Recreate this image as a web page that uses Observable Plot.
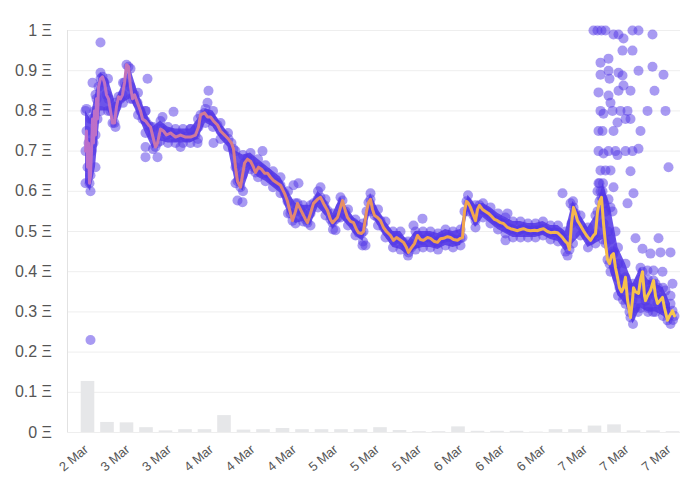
<!DOCTYPE html>
<html>
<head>
<meta charset="utf-8">
<script src="https://cdn.jsdelivr.net/npm/d3@7"></script>
<script src="https://cdn.jsdelivr.net/npm/@observablehq/plot@0.6"></script>
<style>
  html, body { margin: 0; background: #fff; }
  #plot svg { display: block; }
</style>
</head>
<body>
<div id="plot"></div>
<script>
// all times are hours since 2 Mar 00:00 (UTC)
const march2 = Date.UTC(2022, 2, 2);
const toDate = h => new Date(march2 + h * 3600e3);

const xDomainHours = [18.9, 141.5];
const tickHours = [23.5, 31.8, 40.1, 48.5, 56.8, 65.1, 73.4, 81.7, 90.1, 98.4, 106.7, 115.0, 123.3, 131.6, 140.0];
const tickLabels = ["2 Mar", "3 Mar", "3 Mar", "4 Mar", "4 Mar", "4 Mar", "5 Mar", "5 Mar", "5 Mar",
  "6 Mar", "6 Mar", "6 Mar", "7 Mar", "7 Mar", "7 Mar"];
const yTicks = [0, 0.1, 0.2, 0.3, 0.4, 0.5, 0.6, 0.7, 0.8, 0.9, 1];

// moving average of sale prices (Ξ)
const trendHours = [22.5, 22.7, 22.9, 23.1, 23.3, 23.5, 23.7, 23.9, 24.1, 24.3,
  24.5, 24.7, 24.9, 25.1, 25.5, 25.9, 26.3, 26.7, 27.1, 27.5,
  27.9, 28.3, 28.7, 29.1, 29.5, 29.9, 30.3, 30.7, 31.1, 31.5,
  31.9, 32.3, 32.9, 33.5, 33.9, 34.5, 35.1, 35.5, 35.9, 36.5,
  36.9, 37.5, 38.1, 38.7, 39.5, 40.5, 41.5, 42.5, 43.5, 44.5,
  45.1, 45.5, 46.3, 46.9, 47.5, 48.1, 48.9, 49.5, 50.3, 51.1,
  51.7, 52.1, 52.5, 52.9, 53.5, 53.9, 54.3, 54.9, 55.5, 56.1,
  56.5, 57.1, 57.7, 58.3, 58.9, 59.5, 60.1, 60.9, 61.5, 62.3,
  62.9, 63.5, 63.9, 64.5, 64.9, 65.5, 65.9, 66.5, 66.9, 67.5,
  68.1, 68.9, 69.5, 70.3, 70.9, 71.5, 71.9, 72.5, 72.9, 73.5,
  73.9, 74.5, 74.9, 75.5, 76.1, 76.7, 77.1, 77.7, 78.1, 78.7,
  79.1, 79.5, 79.9, 80.3, 80.9, 81.5, 82.1, 82.7, 83.5, 84.1,
  84.7, 85.3, 86.1, 86.7, 87.1, 87.7, 88.3, 88.9, 89.5, 90.1,
  90.9, 91.5, 92.3, 92.9, 93.5, 94.1, 94.9, 95.5, 96.1, 96.9,
  97.5, 97.9, 98.3, 98.7, 99.1, 99.5, 100.1, 100.5, 100.9, 101.3,
  101.9, 102.5, 103.1, 103.7, 104.3, 104.9, 105.5, 106.1, 106.9, 107.5,
  108.1, 108.9, 109.5, 110.1, 110.9, 111.5, 112.3, 112.9, 113.5, 114.1,
  114.9, 115.5, 116.3, 116.9, 117.5, 117.9, 118.5, 118.9, 119.3, 119.7,
  120.1, 120.5, 120.9, 121.5, 122.1, 122.7, 123.5, 124.1, 124.5, 124.9,
  125.3, 125.7, 126.1, 126.5, 126.9, 127.3, 127.7, 128.1, 128.5, 128.9,
  129.3, 129.7, 130.1, 130.5, 130.9, 131.3, 131.5, 131.9, 132.1, 132.5,
  133.1, 133.5, 133.9, 134.3, 134.5, 134.9, 135.5, 135.9, 136.1, 136.5,
  136.9, 137.5, 137.9, 138.3, 138.9, 139.3, 139.9, 140.3];
const trendPrices = [0.70, 0.75, 0.66, 0.72, 0.62, 0.64, 0.70, 0.78, 0.72, 0.80,
  0.74, 0.83, 0.78, 0.86, 0.88, 0.885, 0.87, 0.84, 0.83, 0.80,
  0.77, 0.77, 0.81, 0.835, 0.83, 0.84, 0.87, 0.915, 0.91, 0.86,
  0.83, 0.84, 0.82, 0.80, 0.78, 0.775, 0.765, 0.76, 0.74, 0.71,
  0.72, 0.755, 0.75, 0.74, 0.745, 0.735, 0.74, 0.735, 0.735, 0.74,
  0.76, 0.79, 0.795, 0.785, 0.785, 0.775, 0.765, 0.75, 0.74, 0.73,
  0.72, 0.705, 0.66, 0.625, 0.61, 0.64, 0.67, 0.68, 0.675, 0.66,
  0.647, 0.66, 0.655, 0.645, 0.645, 0.635, 0.627, 0.62, 0.615, 0.595,
  0.575, 0.545, 0.527, 0.55, 0.57, 0.555, 0.545, 0.53, 0.522, 0.545,
  0.57, 0.58, 0.585, 0.565, 0.552, 0.53, 0.522, 0.53, 0.535, 0.56,
  0.577, 0.55, 0.535, 0.525, 0.522, 0.505, 0.497, 0.495, 0.50, 0.55,
  0.572, 0.58, 0.555, 0.54, 0.535, 0.527, 0.51, 0.50, 0.49, 0.478,
  0.485, 0.48, 0.473, 0.46, 0.448, 0.46, 0.47, 0.49, 0.48, 0.478,
  0.485, 0.483, 0.475, 0.473, 0.482, 0.483, 0.487, 0.485, 0.48, 0.478,
  0.483, 0.485, 0.55, 0.575, 0.57, 0.56, 0.54, 0.527, 0.555, 0.565,
  0.555, 0.55, 0.545, 0.538, 0.53, 0.527, 0.522, 0.52, 0.51, 0.507,
  0.505, 0.502, 0.505, 0.507, 0.503, 0.502, 0.503, 0.502, 0.505, 0.507,
  0.50, 0.497, 0.498, 0.497, 0.49, 0.485, 0.475, 0.47, 0.455, 0.52,
  0.56, 0.545, 0.527, 0.515, 0.502, 0.49, 0.478, 0.49, 0.495, 0.55,
  0.575, 0.585, 0.52, 0.47, 0.43, 0.42, 0.44, 0.445, 0.41, 0.386,
  0.36, 0.35, 0.36, 0.386, 0.33, 0.30, 0.286, 0.33, 0.36, 0.35,
  0.346, 0.38, 0.40, 0.34, 0.328, 0.34, 0.353, 0.37, 0.378, 0.34,
  0.321, 0.33, 0.336, 0.31, 0.279, 0.29, 0.303, 0.29];

// upper and lower edge of the dense cluster of sales
const bandHours = [22.5, 23.5, 24.5, 25.5, 27, 28.5, 30, 31.5, 33, 34.5,
  36, 37.5, 39, 40.5, 42, 43.5, 45, 46.5, 48, 49.5,
  51, 52.5, 54, 55.5, 57, 58.5, 60, 61.5, 63, 64.5,
  66, 67.5, 69, 70.5, 72, 73.5, 75, 76.5, 78, 79.5,
  81, 82.5, 84, 85.5, 87, 88.5, 90, 91.5, 93, 94.5,
  96, 97.5, 99, 100.5, 102, 103.5, 105, 106.5, 108, 109.5,
  111, 112.5, 114, 115.5, 117, 118.5, 120, 121.5, 123, 124.5,
  126, 127.5, 129, 130.5, 132, 133.5, 135, 136.5, 138, 139.5];
const bandHigh = [0.80, 0.78, 0.84, 0.895, 0.88, 0.82, 0.87, 0.905, 0.845, 0.80,
  0.76, 0.775, 0.76, 0.755, 0.755, 0.755, 0.78, 0.805, 0.80, 0.77,
  0.745, 0.70, 0.69, 0.695, 0.68, 0.665, 0.65, 0.635, 0.60, 0.57,
  0.565, 0.565, 0.60, 0.58, 0.545, 0.585, 0.555, 0.53, 0.52, 0.595,
  0.555, 0.525, 0.50, 0.50, 0.475, 0.50, 0.50, 0.50, 0.495, 0.505,
  0.50, 0.505, 0.59, 0.565, 0.57, 0.56, 0.545, 0.535, 0.525, 0.525,
  0.52, 0.52, 0.525, 0.515, 0.515, 0.50, 0.575, 0.54, 0.51, 0.54,
  0.62, 0.56, 0.46, 0.42, 0.37, 0.41, 0.38, 0.37, 0.36, 0.32];
const bandLow = [0.62, 0.60, 0.66, 0.80, 0.80, 0.76, 0.82, 0.83, 0.79, 0.745,
  0.705, 0.725, 0.72, 0.72, 0.72, 0.72, 0.73, 0.77, 0.76, 0.73,
  0.71, 0.62, 0.60, 0.655, 0.635, 0.625, 0.61, 0.595, 0.545, 0.52,
  0.525, 0.515, 0.56, 0.54, 0.505, 0.535, 0.515, 0.49, 0.475, 0.55,
  0.515, 0.485, 0.46, 0.455, 0.44, 0.455, 0.46, 0.46, 0.455, 0.465,
  0.46, 0.465, 0.55, 0.51, 0.535, 0.52, 0.505, 0.495, 0.485, 0.485,
  0.485, 0.485, 0.49, 0.48, 0.475, 0.45, 0.47, 0.49, 0.46, 0.47,
  0.48, 0.40, 0.34, 0.32, 0.27, 0.31, 0.30, 0.30, 0.29, 0.27];

// single sales away from the cluster
const outlierHours = [23.5, 25.5, 23.9, 22.7, 34.5, 34.9, 34.5, 34.5, 36.9, 37.9,
  40.1, 41.5, 43.5, 44.9, 46.9, 47.1, 48.1, 52.9, 53.9, 57.9,
  64.1, 65.1, 69.5, 72.5, 77.9, 78.5, 88.1, 89.9, 106.5, 106.9,
  117.9, 118.9, 119.5,
  124.1, 124.9, 125.7, 126.5, 128.1, 129.1, 130.1, 131.9, 133.1, 135.9,
  129.9, 131.9, 125.5, 127.1, 125.5, 127.1, 127.3, 129.1, 129.9, 133.1,
  135.9, 138.1, 125.1, 127.1, 127.5, 129.1, 130.1, 131.5, 136.3, 125.5,
  126.1, 127.9, 129.5, 130.9, 134.9, 138.5, 128.9, 130.5, 131.5, 125.1,
  125.9, 128.1, 133.5, 125.1, 126.1, 127.1, 128.5, 128.9, 130.5, 131.9,
  133.1, 139.1, 125.5, 126.5, 127.5, 131.5, 125.1, 128.1, 132.1, 130.9,
  132.5, 137.1, 133.9, 135.5, 137.5, 139.5, 134.9, 136.1, 137.9, 139.9,
  138.5, 139.5,
  124.9, 125.3, 125.9, 126.3, 127.1, 127.9, 128.5, 125.5, 126.0, 126.5,
  127.0, 127.5, 128.0, 128.5, 129.0, 129.5, 130.0, 131.0, 132.5, 133.0,
  134.0, 135.0, 136.0, 137.0, 138.0, 139.0, 140.0];
const outlierPrices = [0.23, 0.97, 0.87, 0.805, 0.80, 0.88, 0.71, 0.685, 0.685, 0.785,
  0.798, 0.71, 0.755, 0.72, 0.82, 0.85, 0.72, 0.577, 0.573, 0.70,
  0.615, 0.62, 0.61, 0.503, 0.465, 0.465, 0.515, 0.532, 0.478, 0.545,
  0.595, 0.44, 0.57,
  1.0, 1.0, 1.0, 1.0, 0.99, 0.99, 0.98, 1.0, 1.0, 0.99,
  0.95, 0.95, 0.92, 0.93, 0.89, 0.90, 0.88, 0.895, 0.888, 0.90,
  0.91, 0.89, 0.846, 0.838, 0.82, 0.85, 0.863, 0.85, 0.85, 0.80,
  0.793, 0.80, 0.80, 0.80, 0.80, 0.80, 0.771, 0.78, 0.78, 0.75,
  0.75, 0.75, 0.75, 0.70, 0.694, 0.70, 0.70, 0.69, 0.70, 0.70,
  0.706, 0.66, 0.652, 0.652, 0.652, 0.65, 0.62, 0.61, 0.595, 0.57,
  0.483, 0.483, 0.457, 0.445, 0.448, 0.448, 0.403, 0.403, 0.40, 0.37,
  0.353, 0.34,
  0.60, 0.62, 0.60, 0.57, 0.58, 0.55, 0.50, 0.60, 0.58, 0.55,
  0.50, 0.48, 0.45, 0.40, 0.42, 0.38, 0.33, 0.36, 0.31, 0.30,
  0.36, 0.31, 0.30, 0.36, 0.31, 0.30, 0.28];

// volume bars
const barHours = [23.0, 26.9, 30.8, 34.7, 38.6, 42.5, 46.4, 50.3, 54.2, 58.1,
  62.0, 65.9, 69.8, 73.7, 77.6, 81.5, 85.4, 89.3, 93.2, 97.1,
  101.0, 104.9, 108.8, 112.7, 116.6, 120.5, 124.4, 128.3, 132.2, 136.1, 140.0];
const barValues = [0.127, 0.025, 0.024, 0.012, 0.004, 0.007, 0.007, 0.042, 0.006, 0.007,
  0.010, 0.007, 0.007, 0.007, 0.007, 0.012, 0.005, 0.002, 0.002, 0.014,
  0.003, 0.003, 0.003, 0.001, 0.007, 0.007, 0.016, 0.019, 0.004, 0.004, 0.002];

const trend = trendHours.map((h, i) => ({ t: toDate(h), price: trendPrices[i] }));
const band = bandHours.map((h, i) => ({ t: toDate(h), hi: bandHigh[i], lo: bandLow[i] }));
const sales = [
  ...trend,
  ...band.map(d => ({ t: d.t, price: d.hi })),
  ...band.map(d => ({ t: d.t, price: d.lo })),
  ...outlierHours.map((h, i) => ({ t: toDate(h), price: outlierPrices[i] }))
];
const barHalf = 1.36; // hours
const bars = barHours.map((h, i) => ({ t1: toDate(h - barHalf), t2: toDate(h + barHalf), value: barValues[i] }));
const xTicks = tickHours.map((h, i) => ({ t: toDate(h), label: tickLabels[i] }));

const dotColor = "#5236e6";

function renderChart() {
  const plotDiv = document.getElementById('plot');
  plotDiv.innerHTML = '';

  const chart = Plot.plot({
    width: 700,
    height: 494,
    marginLeft: 67,
    marginRight: 20,
    marginTop: 30,
    marginBottom: 62,
    style: {
      fontFamily: '"Liberation Sans", Arial, sans-serif',
      color: "#555",
      background: "#fff"
    },
    x: { type: "utc", domain: xDomainHours.map(toDate), axis: null },
    y: { domain: [0, 1] },
    marks: [
      Plot.gridY(yTicks, { stroke: "#eeeeee", strokeOpacity: 1 }),
      Plot.ruleX([toDate(xDomainHours[0])], { y1: 0, y2: 1, stroke: "#e2e2e2" }),
      Plot.rectY(bars, { x1: "t1", x2: "t2", y: "value", fill: "#e6e7e9" }),
      Plot.areaY(band, { x: "t", y1: "lo", y2: "hi", fill: dotColor, fillOpacity: 0.85 }),
      Plot.dot(sales, { x: "t", y: "price", r: 5, fill: dotColor, fillOpacity: 0.5, stroke: "none" }),
      Plot.line(trend, { x: "t", y: "price", stroke: "url(#maGradient)", strokeWidth: 3 }),
      Plot.axisY(yTicks, {
        tickSize: 0, tickPadding: 15.5, fontSize: 16, fill: "#555",
        tickFormat: d => `${d} Ξ`, label: null
      }),
      // rotated date labels under the plot
      Plot.text(xTicks, {
        x: "t", text: "label", frameAnchor: "bottom",
        rotate: -40, textAnchor: "end", lineAnchor: "middle",
        dx: -4, dy: 15, fontSize: 13, fill: "#555"
      })
    ]
  });

  // gradient for the moving average line (purple -> orange -> yellow)
  const ns = "http://www.w3.org/2000/svg";
  const defs = document.createElementNS(ns, "defs");
  const grad = document.createElementNS(ns, "linearGradient");
  grad.setAttribute("id", "maGradient");
  grad.setAttribute("x1", "0"); grad.setAttribute("x2", "1");
  grad.setAttribute("y1", "0"); grad.setAttribute("y2", "0");
  [["0%", "#bb6fcc"], ["30%", "#de8079"], ["60%", "#f2a24c"], ["100%", "#f7c84c"]].forEach(([o, c]) => {
    const s = document.createElementNS(ns, "stop");
    s.setAttribute("offset", o);
    s.setAttribute("stop-color", c);
    grad.appendChild(s);
  });
  defs.appendChild(grad);
  chart.insertBefore(defs, chart.firstChild);

  plotDiv.appendChild(chart);
}

renderChart();
</script>
</body>
</html>
